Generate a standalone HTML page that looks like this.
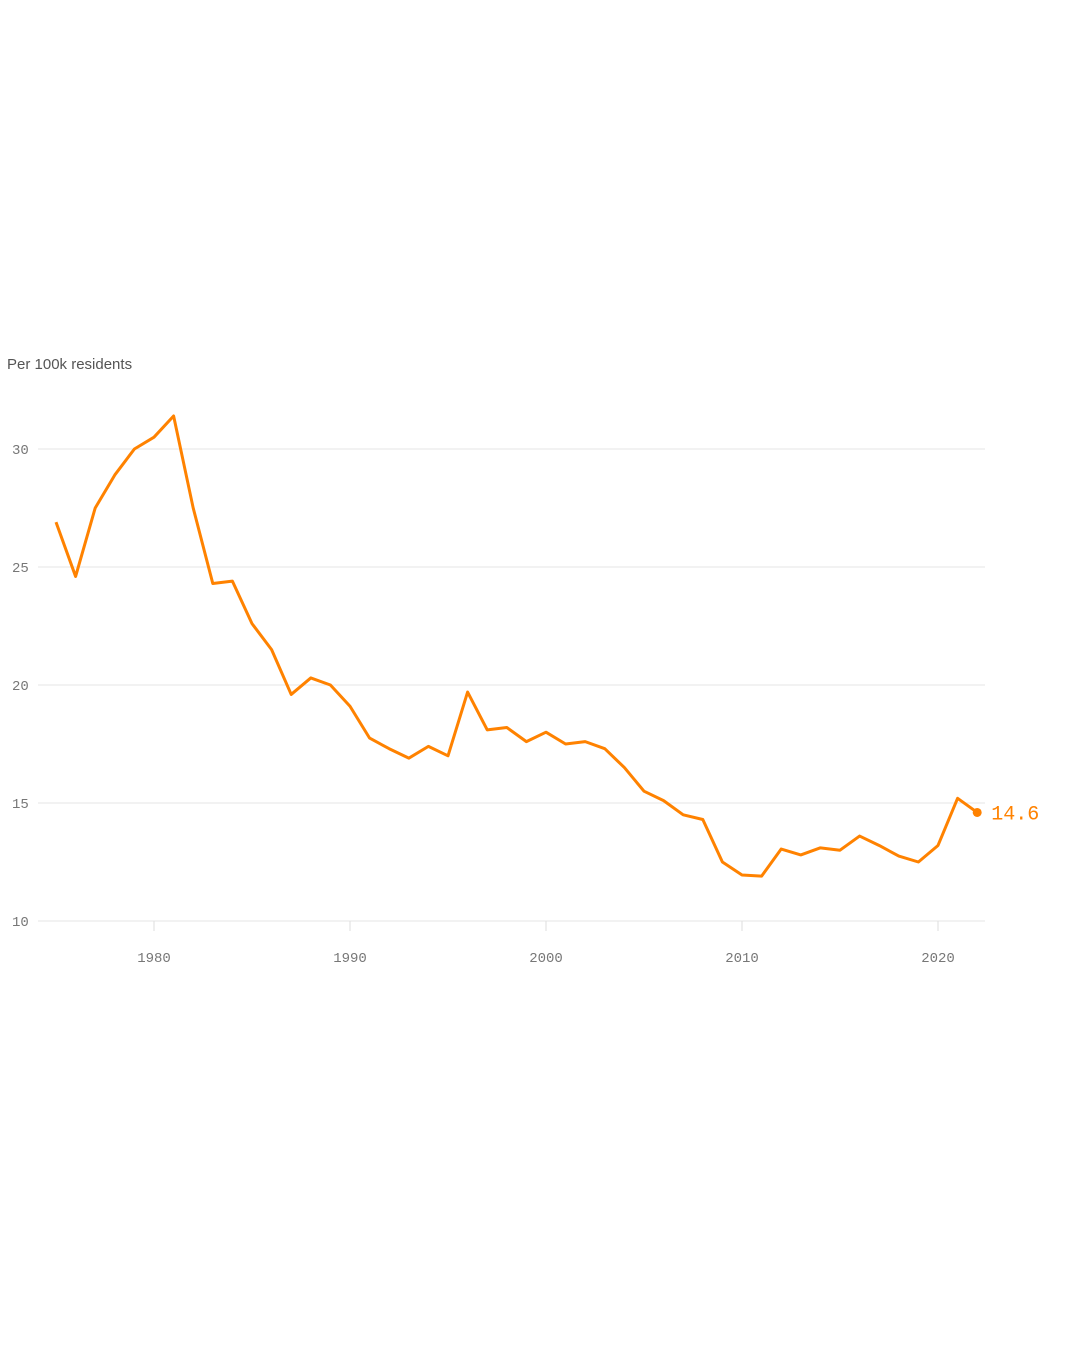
<!DOCTYPE html>
<html><head><meta charset="utf-8"><style>
html,body{margin:0;padding:0;background:#fff;}
svg{display:block;}
.tick{font-family:"Liberation Mono",monospace;font-size:14px;fill:#777;}
</style></head><body>
<svg width="1080" height="1350" id="chart">
<text x="7" y="369" font-family="Liberation Sans, sans-serif" font-size="15" fill="#555">Per 100k residents</text>
<g id="grid"></g><g id="xaxis"></g><g id="series"></g>
</svg>
<script>
const years=[1975,1976,1977,1978,1979,1980,1981,1982,1983,1984,1985,1986,1987,1988,1989,1990,1991,1992,1993,1994,1995,1996,1997,1998,1999,2000,2001,2002,2003,2004,2005,2006,2007,2008,2009,2010,2011,2012,2013,2014,2015,2016,2017,2018,2019,2020,2021,2022];
const values=[26.9,24.6,27.5,28.9,30.0,30.5,31.4,27.5,24.3,24.4,22.6,21.5,19.6,20.3,20.0,19.1,17.75,17.3,16.9,17.4,17.0,19.7,18.1,18.2,17.6,18.0,17.5,17.6,17.3,16.5,15.5,15.1,14.5,14.3,12.5,11.95,11.9,13.05,12.8,13.1,13.0,13.6,13.2,12.75,12.5,13.2,15.2,14.6];
const yTicks=[10,15,20,25,30];
const xTicks=[1980,1990,2000,2010,2020];
const NS="http://www.w3.org/2000/svg";
const x=v=>154+(v-1980)*19.6;
const y=v=>921-(v-10)*23.6;
function mk(t,a,p){const e=document.createElementNS(NS,t);for(const k in a)e.setAttribute(k,a[k]);p.appendChild(e);return e;}
const g=document.getElementById('grid');
yTicks.forEach(t=>{
 const l=mk('line',{x1:38,x2:985,y1:y(t),y2:y(t),stroke:'#e6e6e6','stroke-width':1},g);
 
 
 const tx=mk('text',{x:12,y:y(t)+5,class:'tick'},g);tx.textContent=t;
 
 
});
const xa=document.getElementById('xaxis');
xTicks.forEach(t=>{
 const l=mk('line',{x1:x(t),x2:x(t),y1:921,y2:931,stroke:'#ddd'},xa);
 
 
 const tx=mk('text',{x:x(t),y:962,class:'tick','text-anchor':'middle'},xa);tx.textContent=t;
 
 
});
const s=document.getElementById('series');
const p=mk('path',{d:years.map((yr,i)=>(i?'L':'M')+x(yr)+','+y(values[i])).join(''),fill:'none',stroke:'#ff8200','stroke-width':3,'stroke-linejoin':'round'},s);


const n=years.length-1;
const c=mk('circle',{cx:x(years[n]),cy:y(values[n]),r:4.5,fill:'#ff8200'},s);


const lb=mk('text',{x:x(years[n])+14,y:y(values[n])+7,fill:'#ff8200','font-family':'Liberation Mono, monospace','font-size':20},s);
lb.textContent=values[n];


</script>
</body></html>
